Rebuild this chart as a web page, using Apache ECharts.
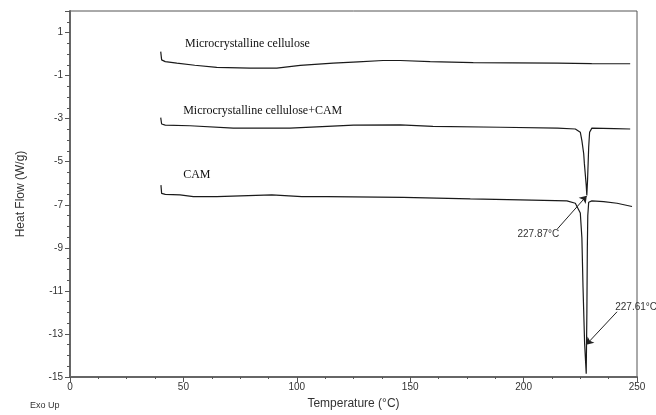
<!DOCTYPE html>
<html>
<head>
<meta charset="utf-8">
<script src="https://cdn.jsdelivr.net/npm/echarts@6/dist/echarts.min.js"></script>
<style>
  html, body { margin: 0; padding: 0; background: #fff; }
  #chart { width: 656px; height: 415px; }
</style>
</head>
<body>
<div id="chart"></div>
<script>
  /* DSC curves, temperature (°C) vs heat flow (W/g) */
  var mccTemp = [40.0, 40.4, 42.0, 47.1, 55.0, 64.7, 79.4, 91.2, 101.5, 116.0, 127.0, 138.0, 145.6, 158.8, 177.8, 195.0, 214.9, 230.0, 247.0];
  var mccHeat = [0.11, -0.27, -0.35, -0.42, -0.52, -0.62, -0.65, -0.65, -0.53, -0.42, -0.36, -0.30, -0.30, -0.35, -0.40, -0.41, -0.42, -0.44, -0.45];

  var mixTemp = [40.0, 40.4, 42.0, 52.9, 72.0, 97.0, 108.8, 125.0, 145.6, 160.0, 190.0, 215.0, 222.8, 225.0, 225.7, 226.5, 226.8, 227.6, 227.87, 228.2, 228.7, 229.1, 230.1, 240.0, 247.0];
  var mixHeat = [-2.95, -3.25, -3.30, -3.33, -3.44, -3.44, -3.38, -3.30, -3.29, -3.36, -3.40, -3.44, -3.48, -3.63, -4.02, -4.63, -5.09, -6.08, -6.56, -5.86, -4.32, -3.63, -3.44, -3.46, -3.48];

  var camTemp = [40.1, 40.4, 42.0, 48.5, 54.4, 64.7, 89.0, 102.2, 113.2, 147.0, 176.5, 198.5, 219.1, 222.8, 225.0, 225.7, 226.2, 226.9, 227.61, 227.9, 228.1, 228.3, 228.7, 230.1, 235.3, 241.2, 247.8];
  var camHeat = [-6.09, -6.47, -6.52, -6.54, -6.62, -6.62, -6.54, -6.62, -6.62, -6.66, -6.73, -6.77, -6.82, -6.93, -7.38, -8.53, -10.83, -13.43, -14.85, -12.0, -9.0, -7.5, -6.88, -6.82, -6.85, -6.93, -7.08];

  var curveNames = ['Microcrystalline cellulose', 'Microcrystalline cellulose+CAM', 'CAM'];
  var curveLabelPos = [[50.7, 0.46], [49.9, -2.64], [49.9, -5.63]];

  var peakTexts = ['227.87°C', '227.61°C'];
  var peakTextPos = [[206.5, -8.39], [240.4, -11.74]];
  var arrowFrom = [[214.9, -8.12], [241.2, -11.97]];
  var arrowTo = [[227.87, -6.58], [227.61, -13.5]];

  var xTicks = { min: 0, max: 250, interval: 50 };
  var yTicks = { min: -15, max: 2, interval: 2 };

  function pairs(xs, ys) {
    return xs.map(function (x, i) { return [x, ys[i]]; });
  }

  var chart = echarts.init(document.getElementById('chart'), null, { renderer: 'canvas' });

  var tickFont = { fontFamily: 'Liberation Sans', fontSize: 10, color: '#333' };

  var labelPoints = curveNames.map(function (n, i) {
    return {
      coord: curveLabelPos[i],
      value: n,
      label: {
        show: true,
        formatter: n,
        position: 'inside',
        align: 'left',
        verticalAlign: 'middle',
        fontFamily: 'Liberation Serif',
        fontSize: 12,
        color: '#111'
      }
    };
  }).concat(peakTexts.map(function (t, i) {
    return {
      coord: peakTextPos[i],
      value: t,
      label: {
        show: true,
        formatter: t,
        position: 'inside',
        align: 'left',
        verticalAlign: 'middle',
        fontFamily: 'Liberation Sans',
        fontSize: 10,
        color: '#333'
      }
    };
  }));
  // first peak text is centred on its point
  labelPoints[3].label.align = 'center';

  var arrows = arrowFrom.map(function (p, i) {
    return [{ coord: p, symbol: 'none' }, { coord: arrowTo[i], symbol: 'arrow' }];
  });

  var lineStyle = { color: '#1a1a1a', width: 1.2 };

  var option = {
    animation: false,
    backgroundColor: '#fff',
    grid: {
      left: 70,
      right: 19,
      top: 11,
      bottom: 34,
      show: true,
      borderColor: '#555',
      borderWidth: 1
    },
    xAxis: {
      type: 'value',
      min: xTicks.min,
      max: xTicks.max,
      interval: xTicks.interval,
      name: 'Temperature (°C)',
      nameLocation: 'middle',
      nameGap: 21,
      nameTextStyle: { fontFamily: 'Liberation Sans', fontSize: 12, color: '#333' },
      axisLine: { onZero: false, lineStyle: { color: '#666', width: 2 } },
      axisTick: { length: 5, lineStyle: { color: '#555' } },
      minorTick: { show: true, splitNumber: 4, length: 2, lineStyle: { color: '#555' } },
      splitLine: { show: false },
      axisLabel: Object.assign({ margin: 5 }, tickFont)
    },
    yAxis: {
      type: 'value',
      min: yTicks.min,
      max: yTicks.max,
      interval: yTicks.interval,
      name: 'Heat Flow (W/g)',
      nameLocation: 'middle',
      nameGap: 43,
      nameTextStyle: { fontFamily: 'Liberation Sans', fontSize: 12, color: '#333' },
      axisLine: { show: true, onZero: false, lineStyle: { color: '#666', width: 2 } },
      axisTick: { length: 5, lineStyle: { color: '#555' } },
      minorTick: { show: true, splitNumber: 4, length: 3, lineStyle: { color: '#555' } },
      splitLine: { show: false },
      axisLabel: Object.assign({ margin: 7, showMaxLabel: false }, tickFont)
    },
    graphic: [{
      type: 'text',
      left: 30,
      top: 401,
      style: { text: 'Exo Up', fontFamily: 'Liberation Sans', fontSize: 9, fill: '#333' }
    }],
    series: [
      {
        name: curveNames[0],
        type: 'line',
        data: pairs(mccTemp, mccHeat),
        showSymbol: false,
        lineStyle: lineStyle,
        markPoint: {
          symbol: 'circle',
          symbolSize: 0,
          silent: true,
          data: labelPoints
        }
      },
      {
        name: curveNames[1],
        type: 'line',
        data: pairs(mixTemp, mixHeat),
        showSymbol: false,
        lineStyle: lineStyle,
        markLine: {
          silent: true,
          symbolSize: 7,
          label: { show: false },
          lineStyle: { color: '#222', width: 1, type: 'solid' },
          data: arrows
        }
      },
      {
        name: curveNames[2],
        type: 'line',
        data: pairs(camTemp, camHeat),
        showSymbol: false,
        lineStyle: lineStyle
      }
    ]
  };

  chart.setOption(option);
</script>
</body>
</html>
